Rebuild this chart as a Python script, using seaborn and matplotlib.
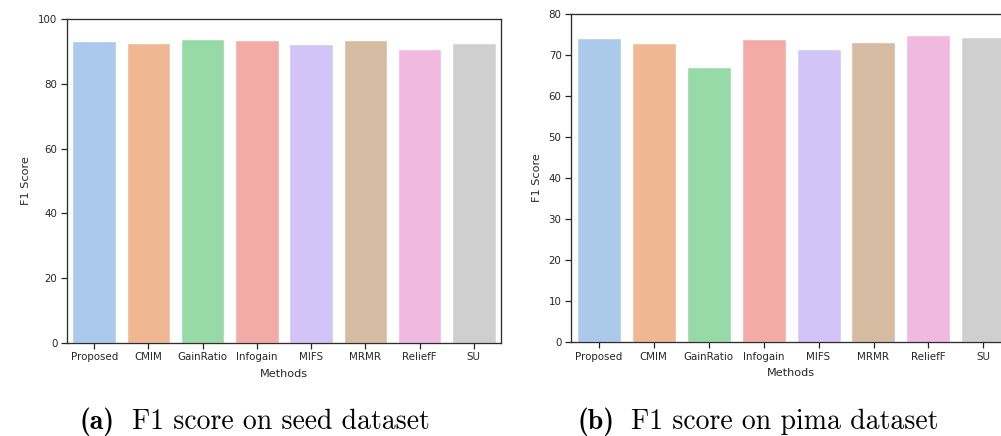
import matplotlib
matplotlib.use("Agg")
import matplotlib.pyplot as plt
import seaborn as sns
import pandas as pd

methods = ["Proposed", "CMIM", "GainRatio", "Infogain", "MIFS", "MRMR", "ReliefF", "SU"]
seed_f1 = [93.2, 92.6, 93.9, 93.4, 92.4, 93.4, 90.6, 92.6]
pima_f1 = [74.0, 72.9, 67.1, 73.8, 71.4, 73.1, 74.7, 74.4]

seed_ticks = [0, 20, 40, 60, 80, 100]
pima_ticks = [0, 10, 20, 30, 40, 50, 60, 70, 80]

sns.set_theme(style="ticks")
plt.rcParams["font.family"] = ["DejaVu Sans"]

W, H = 1001, 436
fig = plt.figure(figsize=(W / 100, H / 100), dpi=100)


def px_axes(x0, x1, top, bottom):
    return fig.add_axes([x0 / W, (H - bottom) / H, (x1 - x0) / W, (bottom - top) / H])


def draw(ax, values, ticks):
    df = pd.DataFrame({"Methods": methods, "F1 Score": values})
    sns.barplot(data=df, x="Methods", y="F1 Score", hue="Methods",
                palette="pastel", legend=False, ax=ax)
    ax.set_ylim(ticks[0], ticks[-1])
    ax.set_yticks(ticks)
    ax.tick_params(axis="both", labelsize=7.4, length=4.3, width=0.9,
                   pad=2.5, colors=".15")
    ax.set_xlabel("Methods", fontsize=8.1, labelpad=4.5)
    ax.set_ylabel("F1 Score", fontsize=8.1, labelpad=5)
    for s in ax.spines.values():
        s.set_linewidth(0.95)
        s.set_color(".18")


ax1 = px_axes(67, 501, 19, 343)
draw(ax1, seed_f1, seed_ticks)

ax2 = px_axes(571, 1011, 13.7, 342.3)
draw(ax2, pima_f1, pima_ticks)

# sub-figure captions
cap_y = 1 - 429 / H
cap = dict(fontsize=20, va="baseline", color="black")
fig.text(80 / W, cap_y, "(a)", family="cmb10", **cap)
fig.text(132 / W, cap_y, "F1 score on seed dataset", family="cmr10", **cap)
fig.text(578 / W, cap_y, "(b)", family="cmb10", **cap)
fig.text(631 / W, cap_y, "F1 score on pima dataset", family="cmr10", **cap)

fig.savefig("out.png", dpi=100)
